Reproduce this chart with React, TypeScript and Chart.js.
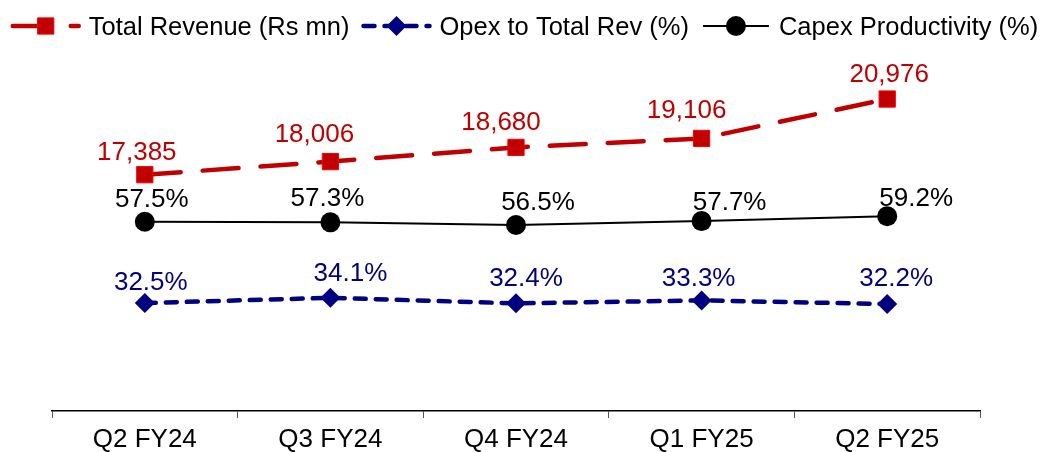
import React, { useEffect, useRef } from 'react';
import { Chart, registerables } from 'chart.js';

Chart.register(...registerables);

// ---- data ----
const categories = ['Q2 FY24', 'Q3 FY24', 'Q4 FY24', 'Q1 FY25', 'Q2 FY25'];
const totalRevenue = [17385, 18006, 18680, 19106, 20976];
const opexToTotalRev = [32.5, 34.1, 32.4, 33.3, 32.2];
const capexProductivity = [57.5, 57.3, 56.5, 57.7, 59.2];
const seriesNames = ['Total Revenue (Rs mn)', 'Opex to Total Rev (%)', 'Capex Productivity (%)'];

// ---- label nudges (style): [dx, distance of baseline above point] ----
const revenueLabelShift = [[-8, 15], [-16, 20], [-15, 17], [-15, 20], [2, 17]];
const opexLabelShift = [[6, 13], [20, 17], [10, 17], [-3, 14], [9, 18]];
const capexLabelShift = [[7, 15], [-3, 16], [22, 14.5], [28, 11], [29, 10]];

const FAMILY = '"Liberation Sans", Arial, Helvetica, sans-serif';
const FONT_SIZE = 26;
const LEGEND_FONT_SIZE = 25.5;
const RED = '#C00000';
const NAVY = '#000080';
const BLACK = '#000000';

function drawMarker(ctx: CanvasRenderingContext2D, style: string, x: number, y: number, r: number, fill: string, stroke: string, bw: number) {
  ctx.save();
  ctx.beginPath();
  if (style === 'rect') {
    const s = Math.SQRT1_2 * r;
    ctx.rect(x - s, y - s, 2 * s, 2 * s);
  } else if (style === 'rectRot') {
    ctx.moveTo(x - r, y);
    ctx.lineTo(x, y - r);
    ctx.lineTo(x + r, y);
    ctx.lineTo(x, y + r);
    ctx.closePath();
  } else {
    ctx.arc(x, y, r, 0, Math.PI * 2);
  }
  ctx.fillStyle = fill;
  ctx.fill();
  if (bw > 0) {
    ctx.lineWidth = bw;
    ctx.strokeStyle = stroke;
    ctx.setLineDash([]);
    ctx.stroke();
  }
  ctx.restore();
}

const legendPlugin = {
  id: 'customLegend',
  afterDraw(chart: any) {
    const ctx: CanvasRenderingContext2D = chart.ctx;
    ctx.save();
    ctx.font = `${LEGEND_FONT_SIZE}px ${FAMILY}`;
    const sampleW = 70;
    const textGap = 8;
    const itemGap = 12;
    const items = chart.data.datasets.map((ds: any) => ({
      ds,
      w: sampleW + textGap + ctx.measureText(ds.label).width,
    }));
    const total = items.reduce((a: number, b: any) => a + b.w, 0) + itemGap * (items.length - 1);
    let x = (chart.width - total) / 2;
    const y = 26;
    items.forEach(({ ds, w }: any) => {
      ctx.save();
      ctx.strokeStyle = ds.borderColor;
      ctx.lineWidth = ds.borderWidth;
      ctx.setLineDash(ds.borderDash || []);
      ctx.lineCap = ds.borderCapStyle || 'butt';
      ctx.beginPath();
      ctx.moveTo(x + 2, y);
      ctx.lineTo(x + sampleW - 2, y);
      ctx.stroke();
      ctx.restore();
      drawMarker(ctx, ds.pointStyle, x + sampleW / 2, y, ds.pointRadius, ds.pointBackgroundColor, ds.pointBorderColor, ds.pointBorderWidth);
      ctx.fillStyle = '#000';
      ctx.textAlign = 'left';
      ctx.textBaseline = 'alphabetic';
      ctx.fillText(ds.label, x + sampleW + textGap, 34.5);
      x += w + itemGap;
    });
    ctx.restore();
  },
};

const shifts = [revenueLabelShift, opexLabelShift, capexLabelShift];

const labelPlugin = {
  id: 'pointLabels',
  afterDatasetsDraw(chart: any) {
    const ctx: CanvasRenderingContext2D = chart.ctx;
    ctx.save();
    ctx.font = `${FONT_SIZE}px ${FAMILY}`;
    ctx.textAlign = 'center';
    ctx.textBaseline = 'alphabetic';
    chart.data.datasets.forEach((ds: any, di: number) => {
      const meta = chart.getDatasetMeta(di);
      meta.data.forEach((pt: any, i: number) => {
        const v = ds.data[i] as number;
        const text = di === 0
          ? v.toLocaleString('en-US')
          : v.toFixed(1) + '%';
        const [dx, dy] = shifts[di][i];
        ctx.fillStyle = ds.labelColor;
        ctx.fillText(text, pt.x + dx, pt.y - dy);
      });
    });
    ctx.restore();
  },
};

export default function App() {
  const ref = useRef<HTMLCanvasElement | null>(null);

  useEffect(() => {
    document.body.style.margin = '0';
    document.body.style.overflow = 'hidden';
    const canvas = ref.current;
    if (!canvas) return;
    const chart = new Chart(canvas, {
      type: 'line',
      data: {
        labels: categories,
        datasets: [
          {
            label: seriesNames[0],
            data: totalRevenue,
            yAxisID: 'yRev',
            borderColor: RED,
            borderWidth: 4.5,
            borderDash: [36, 22],
            borderCapStyle: 'round',
            pointStyle: 'rect',
            pointRadius: 11.5,
            pointBackgroundColor: RED,
            pointBorderColor: '#FF0000',
            pointBorderWidth: 1,
            tension: 0,
            labelColor: RED,
          } as any,
          {
            label: seriesNames[1],
            data: opexToTotalRev,
            yAxisID: 'yPct',
            borderColor: NAVY,
            borderWidth: 4.5,
            borderDash: [11, 10],
            borderCapStyle: 'round',
            pointStyle: 'rectRot',
            pointRadius: 10,
            pointBackgroundColor: NAVY,
            pointBorderColor: NAVY,
            pointBorderWidth: 0,
            tension: 0,
            labelColor: NAVY,
          } as any,
          {
            label: seriesNames[2],
            data: capexProductivity,
            yAxisID: 'yPct',
            borderColor: BLACK,
            borderWidth: 2,
            pointStyle: 'circle',
            pointRadius: 10,
            pointBackgroundColor: BLACK,
            pointBorderColor: BLACK,
            pointBorderWidth: 0,
            tension: 0,
            labelColor: BLACK,
          } as any,
        ],
      },
      options: {
        responsive: false,
        animation: false,
        devicePixelRatio: 1,
        layout: { padding: { top: 50, left: 52, right: 69, bottom: 0 } },
        plugins: {
          legend: { display: false },
          tooltip: { enabled: false },
        },
        scales: {
          x: {
            offset: true,
            afterFit: (axis: any) => {
              axis.height = 41;
            },
            grid: {
              display: true,
              drawOnChartArea: false,
              drawTicks: true,
              tickLength: 7,
              color: '#555555',
              offset: true,
            },
            border: { display: true, color: '#000000', width: 1.5 },
            ticks: {
              color: '#000000',
              padding: 8.5,
              font: { family: FAMILY, size: FONT_SIZE, lineHeight: 1 },
            },
          },
          yRev: { type: 'linear', display: false, min: 6175, max: 23301 },
          yPct: { type: 'linear', display: false, min: -0.7, max: 110.3 },
        },
      },
      plugins: [labelPlugin, legendPlugin],
    });
    return () => chart.destroy();
  }, []);

  return (
    <div style={{ width: 1049, height: 452, overflow: 'hidden' }}>
      <canvas ref={ref} width={1049} height={452} style={{ display: 'block' }} />
    </div>
  );
}
